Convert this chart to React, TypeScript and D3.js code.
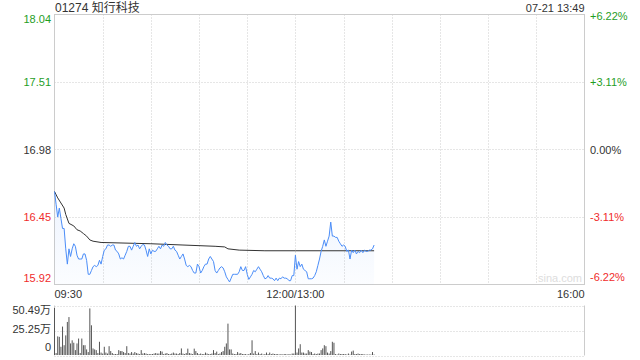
import React from "react";
import * as d3 from "d3";

const title = "01274 知行科技";
const stamp = "07-21 13:49";
const prevClose = 16.98;
const priceTicks = [18.04, 17.51, 16.98, 16.45, 15.92];
const pctTicks = ["+6.22%", "+3.11%", "0.00%", "-3.11%", "-6.22%"];
const volTicks = ["50.49万", "25.25万", "0"];
const volMax = 50.49;
const timeLabels = ["09:30", "12:00/13:00", "16:00"];
const timeLabelMinutes = [0, 150, 330];
const totalMinutes = 330;

// one value per trading minute, from 09:30 (lunch break collapsed)
const prices = [
  16.65, 16.55, 16.45, 16.52, 16.44, 16.36, 16.36, 16.2, 16.08, 16.2,
  16.14, 16.2, 16.24, 16.22, 16.15, 16.12, 16.12, 16.12, 16.16, 16.16,
  16.11, 16.0, 16.0, 16.03, 16.06, 16.07, 16.06, 16.07, 16.11, 16.08,
  16.14, 16.19, 16.2, 16.23, 16.23, 16.22, 16.23, 16.23, 16.19, 16.18,
  16.16, 16.12, 16.13, 16.12, 16.15, 16.18, 16.22, 16.22, 16.19, 16.22,
  16.25, 16.22, 16.23, 16.2, 16.22, 16.235, 16.23, 16.19, 16.14, 16.2,
  16.16, 16.19, 16.18, 16.18, 16.2, 16.22, 16.2, 16.23, 16.22, 16.25,
  16.23, 16.22, 16.2, 16.2, 16.22, 16.19, 16.18, 16.15, 16.12, 16.14,
  16.16, 16.12, 16.07, 16.06, 16.07, 16.06, 16.03, 16.01, 16.01, 16.08,
  16.06, 16.01, 16.03, 16.06, 16.08, 16.08, 16.12, 16.14, 16.12, 16.1,
  16.03, 16.01, 16.03, 16.05, 16.06, 16.05, 16.02, 15.98, 15.96, 15.94,
  15.97, 16.0, 16.0, 16.0, 16.0, 16.02, 16.06, 16.03, 16.03, 16.06,
  16.0, 15.96, 15.98, 16.0, 16.03, 16.02, 16.04, 16.06, 16.04, 16.02,
  15.99, 15.965, 15.97, 15.99, 15.97, 15.97, 15.965, 15.95, 15.97, 15.95,
  15.97, 15.965, 15.98, 15.97, 15.97, 15.965, 15.95, 15.95, 15.99, 15.99,
  16.15, 16.04, 16.1, 16.06, 16.08, 16.04, 16.03, 16.02, 15.965, 15.965,
  15.965, 15.97, 15.99, 16.02, 16.07, 16.12, 16.18, 16.22, 16.27, 16.22,
  16.26, 16.3, 16.41, 16.3, 16.3, 16.29, 16.29, 16.26, 16.24, 16.22,
  16.23, 16.22, 16.18, 16.19, 16.12, 16.19, 16.17, 16.19, 16.16, 16.18,
  16.17, 16.19, 16.17, 16.19, 16.18, 16.18, 16.19, 16.19, 16.2, 16.23,
];

const avgMinutes = [0, 2, 4, 6, 7, 9, 12, 14, 16, 18, 20, 22, 24, 29, 60, 80, 100, 106, 108, 115, 131, 150, 199];
const avgPrices = [16.65, 16.6, 16.56, 16.52, 16.47, 16.4, 16.38, 16.35, 16.34, 16.32, 16.3, 16.27, 16.26, 16.25, 16.24, 16.23, 16.22, 16.215, 16.2, 16.19, 16.185, 16.185, 16.185];

// volume per minute, in 万 shares
const volumes = [
  48, 2, 19, 18.5, 8.4, 29, 10, 20, 33.7, 38.7,
  11.8, 15, 12.5, 5, 11.8, 16.8, 2, 16.8, 10, 10,
  5.7, 3, 47.5, 30.3, 6.7, 5.7, 5, 2, 13.5, 2.5,
  1.5, 8.4, 2.5, 1.5, 9, 4, 2, 1, 1, 1,
  5, 4, 4, 3, 2, 9, 2, 1.5, 3, 1.5,
  3, 2, 1.5, 1, 5, 1.5, 2, 1.5, 1, 1,
  1, 1, 1.5, 2, 1.5, 1.5, 4, 3.5, 1, 1.5,
  2, 1, 1, 1.5, 2.5, 1.5, 1.5, 1, 2, 6.7,
  1.5, 1, 2, 6.5, 2, 1.5, 1, 6.5, 4, 2,
  1, 1.5, 1, 1, 2.5, 1.5, 1, 1, 1.5, 5,
  2, 3.5, 1, 1.5, 3, 4, 8.4, 11.8, 32, 5.7,
  5.7, 1.5, 1, 1, 3, 1.5, 2, 1, 1, 1,
  0.5, 1, 2, 15, 1.5, 4, 1, 2.5, 1, 1.5,
  0.5, 1, 2.5, 1, 2.5, 1, 1.5, 1, 1, 1,
  0.5, 1, 0.5, 1, 1, 0.5, 1, 0.5, 1.5, 1.5,
  50.49, 2.5, 6.7, 11, 2.5, 2.5, 1.5, 1.5, 5, 3.5,
  3, 1, 1.5, 1, 1.5, 1.5, 5, 6.7, 10, 9,
  2.5, 1.5, 4, 13.5, 12.5, 1, 0.5, 1.5, 1, 1,
  1, 1, 0.5, 1.5, 0.5, 3.5, 4.5, 1, 1, 1.5,
  1, 1, 1, 0.5, 0.5, 0.5, 0.5, 0.5, 3, 0.5,
];

const GREEN = "#1f9e1f";
const RED = "#f02c2c";
const DARK = "#333";
const FONT = "'Liberation Sans', Arial, 'Noto Sans CJK SC', sans-serif";

export default function App() {
  const W = 640, H = 360;
  const L = 54.5, R = 584.5;
  const pTop = 14.5, pBot = 284.5;
  const vTop = 305.5, vBot = 355.5;

  const x = d3.scaleLinear().domain([0, totalMinutes]).range([L, R]);
  const y = d3.scaleLinear().domain([priceTicks[4], priceTicks[0]]).range([pBot, pTop]);
  const yv = d3.scaleLinear().domain([0, volMax]).range([vBot - 0.5, vTop]);

  const line = d3.line<number>().x((_, i) => x(i)).y((d) => y(d));
  const area = d3.area<number>().x((_, i) => x(i)).y0(pBot).y1((d) => y(d));
  const avgLine = d3.line<number>().x((_, i) => x(avgMinutes[i])).y((d) => y(d));

  const vGrid = d3.range(30, totalMinutes, 30);
  const colorFor = (v: number) => (Math.abs(v - prevClose) < 1e-6 ? DARK : v > prevClose ? GREEN : RED);

  const leftLabelY = (i: number, yy: number) => (i === 0 ? yy + 8.5 : i === 4 ? yy - 2.5 : yy + 4);
  const rightLabelY = (i: number, yy: number) => (i === 0 ? yy + 5 : i === 4 ? yy - 4 : yy + 4);

  return (
    <svg width={W} height={H} style={{ position: "absolute", left: 0, top: 0, background: "#fff" }} fontFamily={FONT}>
      <defs>
        <linearGradient id="pf" x1="0" y1="0" x2="0" y2="1">
          <stop offset="0" stopColor="#4b8df8" stopOpacity={0.1} />
          <stop offset="1" stopColor="#4b8df8" stopOpacity={0.02} />
        </linearGradient>
      </defs>
      <text x={55} y={12} fontSize={12} fill={DARK}>{title}</text>
      <text x={R} y={12} fontSize={11} fill={DARK} textAnchor="end">{stamp}</text>

      {/* price grid */}
      {priceTicks.slice(1, 4).map((p) => (
        <line key={p} x1={L} x2={R} y1={Math.round(y(p)) + 0.5} y2={Math.round(y(p)) + 0.5} stroke="#ccc" strokeDasharray="1,2" />
      ))}
      {vGrid.map((m) => (
        <line key={m} x1={Math.round(x(m)) + 0.5} x2={Math.round(x(m)) + 0.5} y1={pTop} y2={pBot} stroke="#ccc" strokeDasharray="1,2" />
      ))}
      <rect x={L} y={pTop} width={R - L} height={pBot - pTop} fill="none" stroke="#ccc" />

      <text x={582} y={282} fontSize={11} fill="#ddd" textAnchor="end">sina.com</text>

      <path d={area(prices) || ""} fill="url(#pf)" />
      <path d={avgLine(avgPrices) || ""} fill="none" stroke="#333" strokeWidth={1} />
      <path d={line(prices) || ""} fill="none" stroke="#4b8df8" strokeWidth={1} />

      {priceTicks.map((p, i) => (
        <text key={"l" + p} x={51} y={leftLabelY(i, y(p))} fontSize={11} fill={colorFor(p)} textAnchor="end">{p.toFixed(2)}</text>
      ))}
      {pctTicks.map((t, i) => (
        <text key={"r" + t} x={590} y={rightLabelY(i, y(priceTicks[i]))} fontSize={11} fill={colorFor(priceTicks[i])}>{t}</text>
      ))}

      {timeLabels.map((t, i) => (
        <text key={t} x={i === 0 ? L : i === 2 ? R : x(timeLabelMinutes[i])} y={298} fontSize={11} fill={DARK}
          textAnchor={i === 0 ? "start" : i === 2 ? "end" : "middle"}>{t}</text>
      ))}

      {/* volume panel */}
      {[vTop, (vTop + vBot) / 2, vBot].map((yy, i) => (
        <line key={"vg" + i} x1={L} x2={R} y1={Math.round(yy) + 0.5} y2={Math.round(yy) + 0.5} stroke="#ccc" strokeDasharray="1,2" />
      ))}
      <line x1={L} x2={L} y1={vTop} y2={vBot} stroke="#ccc" />
      <line x1={R} x2={R} y1={vTop} y2={vBot} stroke="#ccc" />
      {volumes.map((v, i) => (
        <rect key={"v" + i} x={x(i) - 0.5} y={yv(v)} width={1} height={Math.max(0.5, vBot - 0.5 - yv(v))} fill="#555" />
      ))}
      {volTicks.map((t, i) => (
        <text key={t} x={51} y={[314, 333, 351][i]} fontSize={11} fill={DARK} textAnchor="end">{t}</text>
      ))}
    </svg>
  );
}
